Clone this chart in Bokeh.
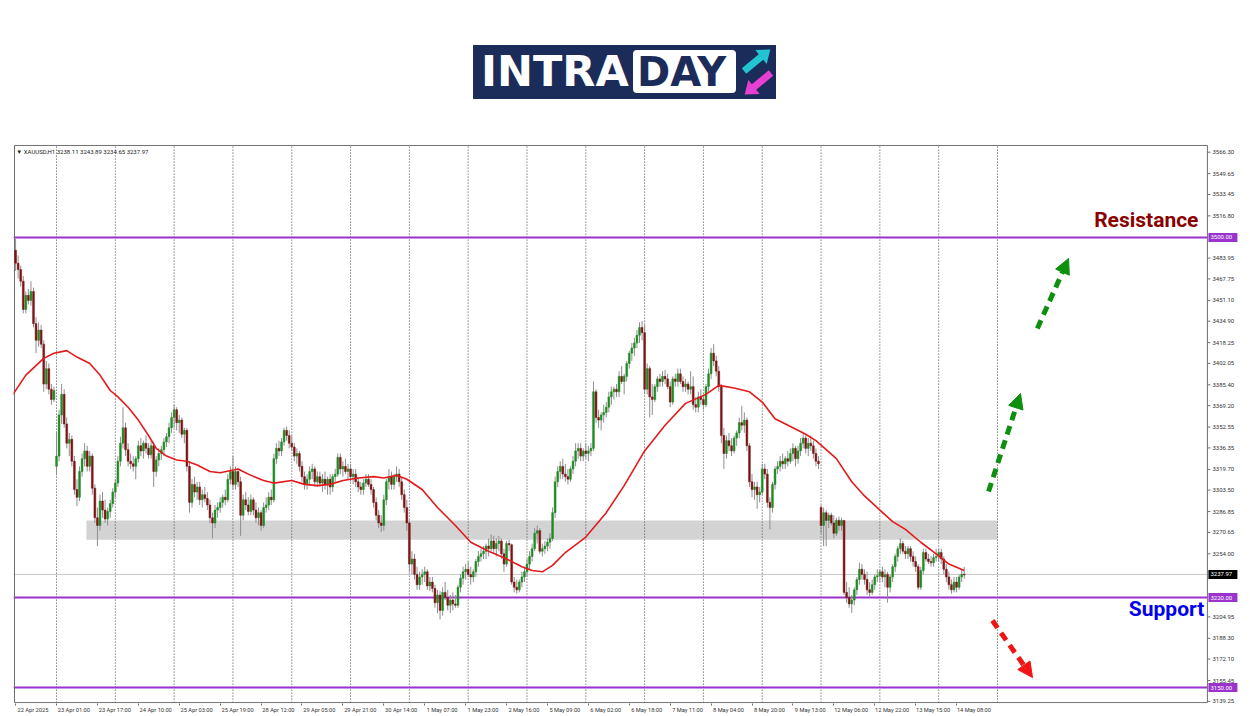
from bokeh.plotting import figure
from bokeh.models import (Range1d, FixedTicker, Label, Arrow, NormalHead, Div,
                          BoxAnnotation, ColumnDataSource)
from bokeh.layouts import column
from bokeh.embed import file_html
from bokeh.resources import INLINE
from bokeh.core.properties import value

# ---------------- data ----------------
trading_days = ["22 Apr", "23 Apr", "24 Apr", "25 Apr", "28 Apr", "29 Apr", "30 Apr",
                "1 May", "2 May", "5 May", "6 May", "7 May", "8 May", "9 May",
                "12 May", "13 May", "14 May"]
first_hour = 8
last_hour = 11
first_label = "22 Apr 2025"

closes = [
    3480, 3475, 3466, 3444, 3455, 3451, 3458, 3433, 3420, 3428, 3417, 3386, 3398, 3382, 3374, 3381,
    3330, 3362, 3378, 3355, 3340, 3343, 3326, 3304, 3298, 3318, 3328, 3334, 3322, 3330, 3305, 3282, 3276, 3295, 3288, 3281, 3287, 3293, 3302,
    3309, 3326, 3340, 3352, 3335, 3326, 3324, 3322, 3328, 3338, 3334, 3340, 3336, 3331, 3338, 3318, 3327, 3332, 3335, 3341, 3345, 3352, 3360,
    3366, 3356, 3358, 3347, 3350, 3322, 3294, 3308, 3302, 3306, 3296, 3300, 3297, 3292, 3282, 3278, 3288, 3290, 3294, 3298, 3296, 3312, 3318,
    3308, 3318, 3310, 3284, 3296, 3292, 3287, 3296, 3288, 3282, 3286, 3276, 3290, 3292, 3298, 3296, 3328, 3336, 3334, 3341, 3350, 3346, 3340,
    3337, 3330, 3332, 3322, 3314, 3308, 3312, 3318, 3320, 3310, 3314, 3309, 3312, 3308, 3312, 3306, 3314, 3316, 3329, 3320, 3322, 3318, 3320,
    3314, 3316, 3310, 3306, 3304, 3309, 3312, 3308, 3304, 3294, 3284, 3278, 3276, 3296, 3310, 3314, 3308, 3314, 3316, 3310, 3300, 3290, 3278,
    3246, 3250, 3238, 3230, 3236, 3238, 3240, 3229, 3232, 3227, 3216, 3222, 3210, 3224, 3220, 3214, 3218, 3215, 3214, 3228, 3235, 3240, 3242,
    3238, 3236, 3240, 3248, 3252, 3254, 3256, 3260, 3258, 3264, 3258, 3262, 3264, 3254, 3246, 3262, 3261, 3232, 3228, 3226, 3232, 3236, 3240,
    3246, 3252, 3258, 3270, 3272, 3256, 3258, 3260, 3263, 3266, 3286, 3310, 3318, 3322, 3316, 3314, 3312, 3320, 3326, 3334, 3336, 3330, 3334,
    3332, 3334, 3336, 3380, 3360, 3358, 3362, 3364, 3368, 3376, 3380, 3382, 3380, 3392, 3388, 3392, 3402, 3410, 3414, 3418, 3424, 3430, 3426,
    3382, 3398, 3376, 3374, 3384, 3390, 3388, 3392, 3390, 3384, 3372, 3390, 3388, 3394, 3388, 3384, 3386, 3382, 3384, 3370, 3368, 3376, 3374,
    3370, 3384, 3394, 3410, 3404, 3396, 3384, 3346, 3332, 3342, 3338, 3334, 3344, 3348, 3356, 3354, 3358, 3338, 3310, 3304, 3306, 3300, 3302,
    3320, 3316, 3294, 3290, 3308, 3320, 3322, 3326, 3324, 3328, 3326, 3332, 3336, 3328, 3334, 3340, 3344, 3336, 3340, 3338, 3332, 3326, 3324,
    3276, 3286, 3280, 3284, 3278, 3270, 3280, 3276, 3280, 3224, 3220, 3215, 3218, 3226, 3234, 3242, 3238, 3234, 3226, 3224, 3230, 3236, 3237,
    3240, 3236, 3238, 3228, 3236, 3244, 3252, 3258, 3262, 3256, 3254, 3258, 3252, 3248, 3244, 3228, 3241, 3255, 3250, 3248, 3247, 3251, 3252,
    3255, 3250, 3242, 3236, 3230, 3226, 3232, 3228, 3236, 3238.11, 3237.97,
]
highs = [
    3499, 3486, 3478, 3470, 3458, 3460, 3466, 3461, 3438, 3434, 3432, 3420, 3404, 3402, 3386, 3384,
    3349, 3366, 3386, 3382, 3360, 3348, 3346, 3330, 3312, 3322, 3332, 3340, 3338, 3334, 3332, 3308, 3290, 3300, 3302, 3296, 3290, 3296, 3305,
    3312, 3330, 3345, 3368, 3356, 3340, 3332, 3330, 3330, 3342, 3344, 3342, 3346, 3340, 3342, 3341, 3330, 3336, 3338, 3344, 3348, 3356, 3364,
    3370, 3368, 3362, 3360, 3352, 3352, 3326, 3312, 3314, 3310, 3310, 3304, 3306, 3302, 3296, 3286, 3292, 3294, 3298, 3300, 3304, 3316, 3322,
    3330, 3322, 3320, 3314, 3300, 3302, 3298, 3300, 3298, 3294, 3290, 3288, 3294, 3298, 3302, 3304, 3332, 3340, 3342, 3344, 3352, 3353, 3350,
    3346, 3340, 3336, 3334, 3326, 3318, 3316, 3322, 3324, 3322, 3318, 3318, 3316, 3318, 3314, 3316, 3316, 3320, 3332, 3332, 3326, 3328, 3324,
    3324, 3320, 3320, 3314, 3310, 3312, 3316, 3316, 3312, 3306, 3298, 3288, 3284, 3300, 3312, 3320, 3318, 3316, 3322, 3320, 3314, 3304, 3296,
    3280, 3256, 3254, 3244, 3240, 3242, 3244, 3242, 3236, 3236, 3230, 3226, 3225, 3228, 3232, 3226, 3222, 3224, 3222, 3230, 3238, 3244, 3246,
    3248, 3244, 3242, 3250, 3256, 3258, 3260, 3262, 3266, 3269, 3268, 3266, 3268, 3266, 3258, 3264, 3265, 3262, 3236, 3234, 3234, 3240, 3244,
    3250, 3256, 3262, 3274, 3276, 3274, 3262, 3264, 3266, 3270, 3290, 3314, 3322, 3326, 3328, 3324, 3320, 3322, 3330, 3340, 3340, 3340, 3336,
    3340, 3338, 3340, 3388, 3382, 3366, 3364, 3370, 3372, 3380, 3384, 3384, 3386, 3396, 3400, 3394, 3404, 3412, 3418, 3422, 3428, 3434, 3435,
    3432, 3402, 3400, 3386, 3386, 3392, 3394, 3396, 3397, 3394, 3388, 3392, 3394, 3398, 3398, 3392, 3390, 3388, 3396, 3392, 3376, 3380, 3382,
    3378, 3386, 3398, 3414, 3417, 3408, 3400, 3386, 3352, 3346, 3348, 3344, 3346, 3350, 3360, 3369, 3364, 3360, 3340, 3316, 3310, 3310, 3306,
    3324, 3324, 3320, 3298, 3310, 3322, 3326, 3330, 3332, 3330, 3334, 3336, 3340, 3338, 3338, 3344, 3347, 3346, 3344, 3346, 3342, 3336, 3330,
    3292, 3290, 3288, 3286, 3286, 3284, 3282, 3283, 3282, 3280, 3232, 3228, 3222, 3228, 3236, 3247, 3246, 3242, 3240, 3232, 3234, 3238, 3242,
    3242, 3244, 3242, 3240, 3238, 3246, 3254, 3260, 3266, 3264, 3260, 3260, 3260, 3256, 3252, 3246, 3244, 3258, 3258, 3254, 3252, 3254, 3258,
    3258, 3258, 3252, 3246, 3240, 3234, 3236, 3236, 3238, 3242, 3243.89,
]
lows = [
    3474, 3468, 3462, 3441, 3441, 3448, 3447, 3430, 3410, 3415, 3414, 3380, 3382, 3378, 3370, 3372,
    3315, 3326, 3355, 3352, 3336, 3330, 3322, 3300, 3291, 3295, 3314, 3322, 3318, 3318, 3300, 3278, 3260, 3272, 3282, 3278, 3276, 3282, 3290,
    3298, 3306, 3322, 3336, 3330, 3322, 3320, 3318, 3312, 3325, 3330, 3328, 3332, 3328, 3328, 3306, 3314, 3322, 3327, 3330, 3337, 3340, 3348,
    3352, 3350, 3348, 3344, 3340, 3318, 3286, 3290, 3298, 3296, 3292, 3290, 3294, 3288, 3278, 3266, 3274, 3282, 3286, 3290, 3292, 3294, 3308,
    3304, 3304, 3306, 3268, 3280, 3288, 3284, 3284, 3284, 3278, 3276, 3272, 3274, 3286, 3288, 3292, 3294, 3324, 3330, 3330, 3338, 3342, 3336,
    3334, 3326, 3324, 3318, 3310, 3304, 3304, 3308, 3312, 3306, 3306, 3306, 3302, 3304, 3300, 3300, 3302, 3310, 3314, 3316, 3314, 3316, 3312,
    3310, 3308, 3306, 3302, 3300, 3300, 3306, 3306, 3300, 3290, 3280, 3274, 3271, 3272, 3292, 3304, 3304, 3304, 3310, 3306, 3296, 3286, 3272,
    3240, 3238, 3234, 3226, 3226, 3230, 3232, 3226, 3225, 3224, 3212, 3208, 3203, 3206, 3218, 3210, 3208, 3210, 3212, 3212, 3224, 3230, 3234,
    3236, 3230, 3232, 3236, 3244, 3248, 3250, 3250, 3252, 3256, 3254, 3252, 3256, 3250, 3240, 3244, 3256, 3230, 3224, 3223, 3224, 3228, 3232,
    3236, 3242, 3248, 3256, 3262, 3254, 3252, 3254, 3256, 3258, 3264, 3282, 3306, 3312, 3312, 3310, 3308, 3310, 3316, 3322, 3328, 3326, 3326,
    3328, 3326, 3330, 3334, 3356, 3352, 3350, 3356, 3360, 3364, 3370, 3374, 3376, 3376, 3386, 3378, 3388, 3398, 3404, 3408, 3414, 3418, 3420,
    3378, 3378, 3360, 3362, 3372, 3380, 3384, 3384, 3386, 3382, 3368, 3370, 3384, 3384, 3386, 3380, 3380, 3378, 3378, 3366, 3364, 3364, 3370,
    3366, 3368, 3380, 3390, 3400, 3392, 3380, 3340, 3320, 3328, 3334, 3330, 3332, 3338, 3344, 3350, 3348, 3334, 3306, 3298, 3296, 3289, 3294,
    3300, 3312, 3290, 3273, 3286, 3304, 3316, 3318, 3320, 3320, 3322, 3324, 3326, 3322, 3324, 3330, 3336, 3332, 3330, 3334, 3328, 3322, 3320,
    3270, 3260, 3260, 3274, 3276, 3266, 3268, 3272, 3272, 3222, 3216, 3212, 3208, 3214, 3222, 3230, 3234, 3230, 3222, 3220, 3222, 3226, 3232,
    3232, 3232, 3228, 3216, 3224, 3232, 3240, 3248, 3254, 3254, 3250, 3250, 3248, 3244, 3240, 3226, 3226, 3238, 3248, 3246, 3244, 3244, 3248,
    3248, 3246, 3238, 3232, 3226, 3223, 3224, 3224, 3226, 3232, 3234.65,
]
first_open = 3490.0
gap_opens = {16: 3322.0, 315: 3290.0}

# moving average (red line): bar index, price
ma_x = [-1, 4, 11, 15, 20, 24, 29, 33, 37, 40, 44, 48, 52, 55, 59, 63, 67, 71, 76, 80,
        87, 92, 97, 101, 108, 113, 118, 123, 128, 134, 140, 144, 149, 153, 159, 165, 172,
        178, 185, 191, 198, 202, 206, 210, 215, 223, 231, 238, 246, 254, 262, 270, 275,
        281, 287, 292, 297, 304, 309, 313, 321, 327, 332, 338, 343, 348, 354, 360, 365, 371]
ma_y = [3378, 3393, 3406, 3410, 3412, 3407, 3402, 3393, 3381, 3376, 3368, 3358, 3346, 3336,
        3330, 3327, 3326, 3323, 3318, 3317, 3320, 3315, 3311, 3309, 3311, 3308, 3307, 3308,
        3311, 3313, 3314, 3313, 3315, 3312, 3304, 3290, 3276, 3263, 3256, 3251, 3244, 3241,
        3240, 3245, 3255, 3267, 3286, 3307, 3334, 3354, 3371, 3378, 3385, 3383, 3380, 3372,
        3359, 3352, 3347, 3342, 3328, 3310, 3299, 3288, 3279, 3273, 3263, 3254, 3246, 3241]

y_tick_values = [3566.30, 3549.65, 3533.45, 3516.80, 3483.95, 3467.75, 3451.10, 3434.90,
                 3418.25, 3402.05, 3385.40, 3369.20, 3352.55, 3336.35, 3319.70, 3303.50,
                 3286.85, 3270.65, 3254.00, 3204.95, 3188.30, 3172.10, 3155.45, 3139.25]
resistance = 3500.00
support = 3220.00
lower_level = 3150.00
last_price = 3237.97
zone_low, zone_high = 3265.0, 3280.0
zone_start = 27.7
header = "\u25bc XAUUSD,H1  3238.11 3243.89 3234.65 3237.97"

# annotation arrows (bar index, price)
up_arrows = [((380.5, 3302.4), (393.0, 3378.7)), ((399.6, 3429.2), (411.8, 3483.7))]
down_arrow = ((382.0, 3202.1), (397.7, 3157.8))

# ---------------- derived ----------------
bar_day, bar_hour = [], []
for k, d in enumerate(trading_days):
    h0 = first_hour if k == 0 else 1
    h1 = last_hour if k == len(trading_days) - 1 else 23
    for h in range(h0, h1 + 1):
        bar_day.append(d)
        bar_hour.append(h)
n = len(closes)
opens = [first_open] + [gap_opens.get(i, closes[i - 1]) for i in range(1, n)]
xs = list(range(n))
up = [c >= o for o, c in zip(opens, closes)]
src = ColumnDataSource(dict(
    x=xs, o=opens, h=highs, l=lows, c=closes,
    top=[max(o, c) for o, c in zip(opens, closes)],
    bottom=[min(o, c) if abs(o - c) > 0.4 else min(o, c) - 0.4 for o, c in zip(opens, closes)],
    color=["#1f8b24" if u else "#7d1515" for u in up],
))
tick_pos = list(range(0, n, 16))
day_starts = [i for i in range(1, n) if bar_hour[i] == 1] + [n + (23 - last_hour)]

# ---------------- geometry (pixels -> data) ----------------
PX = 2.557            # pixels per bar
X0 = -0.82            # bar index at frame left
X_EDGE = 466.1        # bar index at price-axis line
X1 = 482.95           # bar index at figure right
Y_TOP = 3572.3
Y_BOT = 3137.6
BOX_TOP = 3571.55
BOX_BOT = 3138.3
LABEL_SHIFT = 6.8     # centre of left-aligned time label, in bars

FONT = "Roboto"

# ---------------- logo ----------------
logo_html = """
<div style="position:relative;width:1250px;height:130px;margin:0;padding:0;">
 <div style="position:absolute;left:473px;top:45px;width:303px;height:54px;background:#1c2c5a;"></div>
 <div style="position:absolute;left:633px;top:50px;width:103px;height:43px;background:#ffffff;border-radius:4px;"></div>
 <div style="position:absolute;left:481px;top:50px;font-family:'DejaVu Sans';font-weight:bold;font-size:43px;line-height:43px;color:#ffffff;white-space:nowrap;">INTRA</div>
 <div style="position:absolute;left:637px;top:52px;font-family:'DejaVu Sans';font-weight:bold;font-size:40px;line-height:40px;color:#1c2c5a;white-space:nowrap;">DAY</div>
 <svg style="position:absolute;left:739px;top:47px;" width="36" height="52" viewBox="0 0 36 52">
  <polygon fill="#23c4d1" points="2.8,21.3 7.2,26.7 24.2,12.7 27.7,16.9 31.3,2.4 16.3,3.1 19.8,7.3"/>
  <polygon fill="#e73fd1" points="34.2,28.7 29.8,23.3 12.8,37.3 9.3,33.1 5.7,47.6 20.7,46.9 17.2,42.7"/>
 </svg>
</div>
"""
logo = Div(text=logo_html, width=1250, height=130, margin=(0, 0, 0, 0))

# ---------------- main chart ----------------
p = figure(width=1250, height=586, x_range=Range1d(X0, X1), y_range=Range1d(Y_BOT, Y_TOP),
           output_backend="svg", toolbar_location=None, y_axis_location=None,
           min_border_left=13, min_border_right=0, min_border_top=14, min_border_bottom=13)
p.xgrid.visible = False
p.ygrid.visible = False
p.outline_line_color = None
p.background_fill_color = "white"

p.add_layout(BoxAnnotation(left=zone_start, right=day_starts[-1], bottom=zone_low, top=zone_high,
                           fill_color="#d3d3d3", fill_alpha=1.0, line_color=None, level="underlay"))
p.segment(x0=day_starts, y0=[BOX_BOT] * len(day_starts), x1=day_starts, y1=[BOX_TOP] * len(day_starts),
          line_color="#444444", line_dash="1 2", line_width=1)
p.segment(x0=[X0], y0=[last_price], x1=[X_EDGE], y1=[last_price], line_color="#c8c8c8", line_width=1)
levels = [resistance, support, lower_level]
p.segment(x0=[X0] * 3, y0=levels, x1=[X_EDGE] * 3, y1=levels, line_color="#9933cc", line_width=2)

# frame + price axis line
p.quad(left=[-0.43], right=[X_EDGE], bottom=[BOX_BOT], top=[BOX_TOP],
       fill_color=None, line_color="#6e6e6e", line_width=1)

p.segment(x0="x", y0="l", x1="x", y1="h", source=src, line_color="#8e8e8e", line_width=1)
p.vbar(x="x", top="top", bottom="bottom", width=0.72, source=src,
       fill_color="color", line_color="color", line_width=0.5)
p.line(ma_x, ma_y, line_color="#e31a1c", line_width=1.6)

for (ax0, ay0), (ax1, ay1) in up_arrows:
    p.add_layout(Arrow(end=NormalHead(size=15, fill_color="#0e8f0e", line_color="#0e8f0e"),
                       x_start=ax0, y_start=ay0, x_end=ax1, y_end=ay1,
                       line_color="#0e8f0e", line_width=5, line_dash="9 6"))
(ax0, ay0), (ax1, ay1) = down_arrow
p.add_layout(Arrow(end=NormalHead(size=15, fill_color="#f01414", line_color="#f01414"),
                   x_start=ax0, y_start=ay0, x_end=ax1, y_end=ay1,
                   line_color="#f01414", line_width=5, line_dash="9 6"))

p.add_layout(Label(x=462.6, y=3513.2, text="Resistance", text_align="right",
                   text_baseline="middle", text_font="Roboto", text_font_style="bold",
                   text_font_size="21px", text_color="#8b0000"))
p.add_layout(Label(x=464.9, y=3210.7, text="Support", text_align="right",
                   text_baseline="middle", text_font="Roboto", text_font_style="bold",
                   text_font_size="21px", text_color="#0000ee"))
p.add_layout(Label(x=0.3, y=3566.8, text=header, text_align="left", text_baseline="middle",
                   text_font=FONT, text_font_size="6px", text_color="#222222"))

# price scale (right): tick marks, tick labels, level boxes
tick_len = 3 / PX
p.segment(x0=[X_EDGE] * len(y_tick_values), y0=y_tick_values,
          x1=[X_EDGE + tick_len] * len(y_tick_values), y1=y_tick_values,
          line_color="#6e6e6e", line_width=1)
p.text(x=[X_EDGE + 5 / PX] * len(y_tick_values), y=y_tick_values,
       text=[f"{v:.2f}" for v in y_tick_values], text_font=value(FONT),
       text_font_size=value("6px"), text_color="#333333", text_align="left", text_baseline="middle")
box_levels = [resistance, support, lower_level, last_price]
box_colors = ["#9933cc", "#9933cc", "#9933cc", "#000000"]
p.rect(x=[X_EDGE + 15.5 / PX] * 4, y=box_levels, width=29 / PX, height=7.0,
       fill_color=box_colors, line_color=None)
p.text(x=[X_EDGE + 3 / PX] * 4, y=box_levels, text=[f"{v:.2f}" for v in box_levels],
       text_font=value(FONT), text_font_size=value("6px"), text_color="white",
       text_align="left", text_baseline="middle")

# time axis (labels left-aligned at their bar: centre shifted, small marks at the bar)
label_pos = [t + LABEL_SHIFT for t in tick_pos]
p.xaxis.ticker = FixedTicker(ticks=label_pos, minor_ticks=tick_pos)
p.xaxis.major_label_overrides = {
    lp: (first_label if t == 0 else f"{bar_day[t]} {bar_hour[t]:02d}:00")
    for lp, t in zip(label_pos, tick_pos)}
p.xaxis.major_label_text_font = FONT
p.xaxis.major_label_text_font_size = "5.7px"
p.xaxis.major_label_text_color = "#333333"
p.xaxis.major_tick_out = 0
p.xaxis.major_tick_in = 0
p.xaxis.minor_tick_out = 2
p.xaxis.minor_tick_in = 0
p.xaxis.minor_tick_line_color = "#6e6e6e"
p.xaxis.major_label_standoff = 1
p.xaxis.axis_line_color = None

layout = column(logo, p, spacing=0)
open("out.html", "w").write(file_html(layout, INLINE))
